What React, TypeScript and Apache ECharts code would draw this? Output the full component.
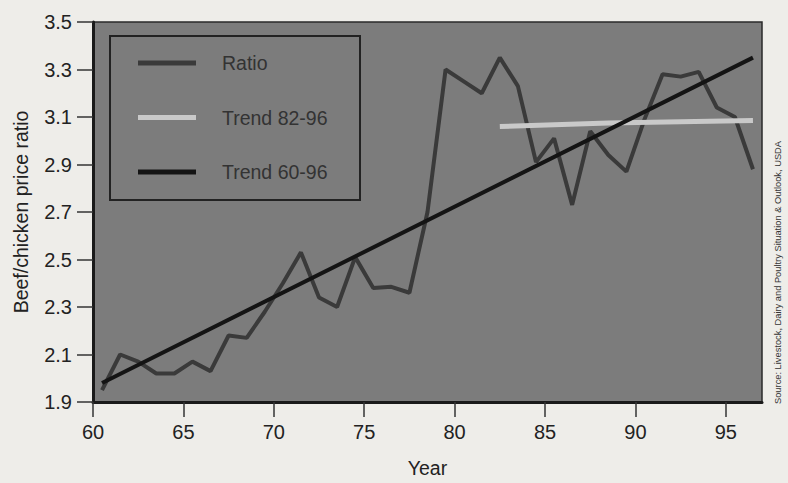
import React, { useEffect, useRef } from "react";
import * as echarts from "echarts";

// Year (19xx) of each observation; plotted at mid-year
const years = [60, 61, 62, 63, 64, 65, 66, 67, 68, 69, 70, 71, 72, 73, 74, 75, 76, 77, 78, 79, 80, 81, 82, 83, 84, 85, 86, 87, 88, 89, 90, 91, 92, 93, 94, 95, 96];
const ratioValues = [1.95, 2.1, 2.07, 2.02, 2.02, 2.07, 2.03, 2.18, 2.17, 2.28, 2.4, 2.53, 2.34, 2.3, 2.51, 2.38, 2.385, 2.36, 2.7, 3.3, 3.25, 3.2, 3.35, 3.23, 2.91, 3.01, 2.73, 3.04, 2.94, 2.87, 3.09, 3.28, 3.27, 3.29, 3.14, 3.1, 2.88];

const trend6096Years = [60, 96];
const trend6096Values = [1.98, 3.35];
const trend8296Years = [82, 88, 96];
const trend8296Values = [3.06, 3.075, 3.085];

const xTicks = [60, 65, 70, 75, 80, 85, 90, 95];
const yTicks = [1.9, 2.1, 2.3, 2.5, 2.7, 2.9, 3.1, 3.3, 3.5];

const seriesNames = ["Ratio", "Trend 82-96", "Trend 60-96"];
const sourceText = "Source: Livestock, Dairy and Poultry Situation & Outlook, USDA";

const FONT = "'Liberation Sans Narrow', 'Liberation Sans', Arial, sans-serif";

const pts = (xs: number[], vs: number[]) => xs.map((y, i) => [y + 0.5, vs[i]]);

export default function App() {
  const ref = useRef<HTMLDivElement>(null);
  useEffect(() => {
    if (!ref.current) return;
    const chart = echarts.init(ref.current, undefined, { renderer: "svg" });
    chart.setOption({
      animation: false,
      backgroundColor: "#eeede9",
      textStyle: { fontFamily: FONT },
      grid: {
        left: 93,
        right: 26,
        top: 22,
        bottom: 78,
        show: true,
        backgroundColor: "#7c7c7c",
        borderColor: "#2a2a2a",
        borderWidth: 1.5,
      },
      legend: {
        orient: "vertical",
        left: 138,
        top: 51,
        padding: 0,
        itemWidth: 58,
        itemHeight: 5,
        itemGap: 30.5,
        icon: "rect",
        data: seriesNames,
        textStyle: {
          fontFamily: FONT,
          fontSize: 19.5,
          lineHeight: 24,
          color: "#333",
          padding: [0, 0, 0, 21],
        },
      },
      xAxis: {
        type: "value",
        min: 60,
        max: 97,
        name: "Year",
        nameLocation: "middle",
        nameGap: 56,
        nameTextStyle: { fontFamily: FONT, fontSize: 19.5, color: "#222" },
        axisLine: { show: true, lineStyle: { color: "#1a1a1a", width: 3 } },
        axisTick: { show: true, length: 15, customValues: xTicks, lineStyle: { color: "#333", width: 1.5 } },
        axisLabel: { customValues: xTicks, margin: 20, fontFamily: FONT, fontSize: 20, color: "#222" },
        splitLine: { show: false },
      },
      yAxis: {
        type: "value",
        min: 1.9,
        max: 3.5,
        name: "Beef/chicken price ratio",
        nameLocation: "middle",
        nameGap: 62,
        nameTextStyle: { fontFamily: FONT, fontSize: 19.5, color: "#222" },
        axisLine: { show: true, lineStyle: { color: "#1a1a1a", width: 3 } },
        axisTick: { show: true, length: 16, customValues: yTicks, lineStyle: { color: "#333", width: 1.5 } },
        axisLabel: {
          customValues: yTicks,
          margin: 21,
          fontFamily: FONT,
          fontSize: 20,
          color: "#222",
          formatter: (v: number) => v.toFixed(1),
        },
        splitLine: { show: false },
      },
      series: [
        {
          name: seriesNames[0],
          type: "line",
          data: pts(years, ratioValues),
          showSymbol: false,
          symbol: "none",
          lineStyle: { color: "#3a3a3a", width: 4 },
          itemStyle: { color: "#3a3a3a" },
          z: 2,
        },
        {
          name: seriesNames[1],
          type: "line",
          data: pts(trend8296Years, trend8296Values),
          showSymbol: false,
          symbol: "none",
          lineStyle: { color: "#c9c9c9", width: 5 },
          itemStyle: { color: "#c9c9c9" },
          z: 3,
        },
        {
          name: seriesNames[2],
          type: "line",
          data: pts(trend6096Years, trend6096Values),
          showSymbol: false,
          symbol: "none",
          lineStyle: { color: "#141414", width: 4 },
          itemStyle: { color: "#141414" },
          z: 4,
        },
      ],
      graphic: [
        {
          type: "rect",
          shape: { x: 110, y: 36, width: 250, height: 164 },
          style: { fill: "none", stroke: "#222", lineWidth: 2 },
          z: 10,
        },
        {
          type: "text",
          x: 778,
          y: 404,
          rotation: Math.PI / 2,
          style: {
            text: sourceText,
            fontFamily: FONT,
            fontSize: 9.3,
            fill: "#333",
            align: "left",
            verticalAlign: "middle",
          },
        },
      ],
    });
    return () => chart.dispose();
  }, []);
  return (
    <div
      ref={ref}
      style={{ position: "absolute", left: 0, top: 0, width: 788, height: 483 }}
    />
  );
}
